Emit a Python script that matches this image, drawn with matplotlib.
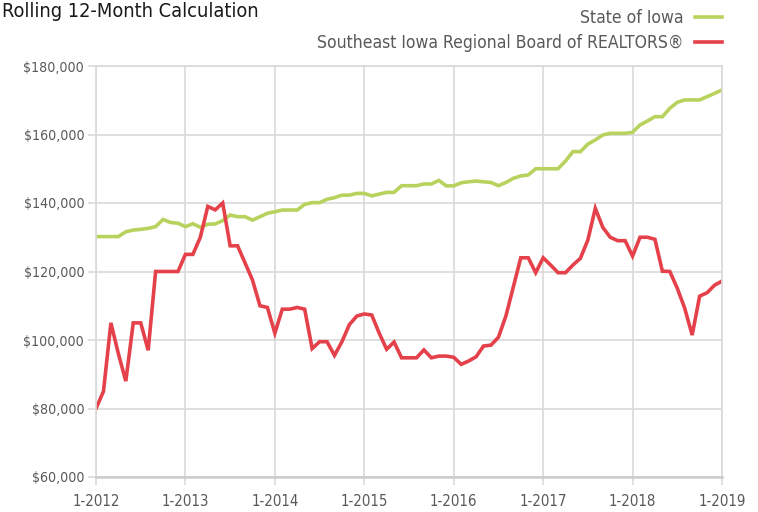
import numpy as np
import matplotlib
matplotlib.use('Agg')
import matplotlib.pyplot as plt

plt.rcParams['font.family'] = ['DejaVu Sans']
plt.rcParams['font.stretch'] = 'condensed'

# monthly values, 1-2012 .. 1-2019
state_of_iowa = [
    130200, 130200, 130200, 130200, 131600, 132100, 132300, 132600, 133100, 135200, 134300, 134100,
    133100, 133950, 132900, 133800, 133900, 134850, 136500, 136000, 136000, 135000, 136000, 137000,
    137450, 137950, 137950, 137950, 139600, 140100, 140100, 141100, 141550, 142300, 142300, 142800,
    142800, 142100, 142600, 143100, 143100, 145050, 145050, 145050, 145550, 145550, 146600, 145000,
    145000, 145900, 146200, 146400, 146200, 146000, 145050, 146000, 147200, 147900, 148200, 150000,
    150000, 150000, 150000, 152250, 155000, 155000, 157200, 158400, 159850, 160350, 160350, 160350,
    160650, 162800, 163950, 165200, 165200, 167650, 169400, 170100, 170100, 170100, 171050, 172000,
    173000,
]
southeast_iowa = [
    80000, 85000, 105000, 96000, 88000, 105000, 105000, 97000, 120000, 120000, 120000, 120000,
    125000, 125000, 130000, 139000, 138000, 140000, 127500, 127500, 122500, 117500, 110000, 109500,
    102000, 109000, 109000, 109500, 109000, 97500, 99500, 99500, 95500, 99500, 104500, 107000,
    107600, 107300, 102000, 97300, 99400, 94800, 94800, 94800, 97100, 94800, 95300, 95300,
    94950, 92900, 93860, 95100, 98240, 98500, 100800, 107000, 115500, 124000, 124000, 119650,
    124000, 121900, 119650, 119650, 121900, 123850, 129200, 138450, 132900, 130000, 129000, 129000,
    124500, 130000, 130000, 129400, 120100, 120000, 115100, 109250, 101450, 112800, 113800, 116000,
    117200,
]
year_labels = ['1-2012', '1-2013', '1-2014', '1-2015', '1-2016', '1-2017', '1-2018', '1-2019']
y_ticks = [60000, 80000, 100000, 120000, 140000, 160000, 180000]

green = '#b8d25e'
red = '#e5414b'
grid_col = '#d9d9d9'
text_col = '#595959'

months = np.arange(len(state_of_iowa))

fig = plt.figure(figsize=(7.58, 5.12), dpi=100)
ax = fig.add_axes([96/758, 1 - 477/512, (722 - 96)/758, (477 - 66)/512])

ax.plot(months, state_of_iowa, color=green, lw=2.6, label='State of Iowa', solid_joinstyle='miter')
ax.plot(months, southeast_iowa, color=red, lw=2.6, label='Southeast Iowa Regional Board of REALTORS®',
        solid_joinstyle='miter')

ax.set_xlim(0, len(months) - 1)
ax.set_ylim(y_ticks[0], y_ticks[-1])
ax.set_xticks(months[::12])
ax.set_xticklabels(year_labels)
ax.set_yticks(y_ticks)
ax.set_yticklabels(['${:,}'.format(v) for v in y_ticks])

ax.grid(True, color=grid_col, lw=1.2)
ax.set_axisbelow(True)
for s in ['top', 'left', 'right']:
    ax.spines[s].set_color(grid_col)
    ax.spines[s].set_linewidth(1.2)
ax.spines['bottom'].set_color('#cccccc')
ax.spines['bottom'].set_linewidth(1.8)
ax.tick_params(axis='both', colors=grid_col, width=1.2, length=6, labelcolor=text_col)
ax.tick_params(axis='x', pad=6, labelsize=10.8)
ax.tick_params(axis='y', pad=2.5, labelsize=10.2)

fig.text(2/758, 1 - 2/512, 'Rolling 12-Month Calculation', fontsize=14.3, color='#1a1a1a',
         ha='left', va='top')

ax.legend(loc='upper right', bbox_to_anchor=(722/758, 1 - 9/512), bbox_transform=fig.transFigure,
          frameon=False, markerfirst=False, borderpad=0, handlelength=1.55, handletextpad=0.65,
          labelspacing=0.4, fontsize=12.6, labelcolor=text_col, borderaxespad=0)

fig.savefig('out.png', dpi=100)
